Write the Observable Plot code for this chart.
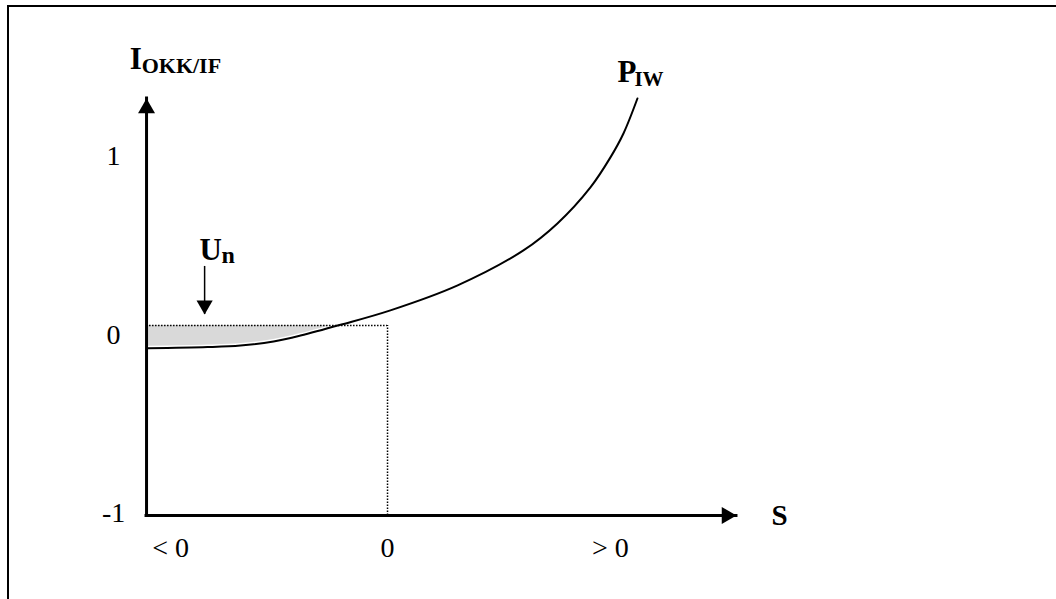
<!DOCTYPE html>
<html><head><meta charset="utf-8">
<script src="https://cdn.jsdelivr.net/npm/d3@7"></script>
<script src="https://cdn.jsdelivr.net/npm/@observablehq/plot@0.6"></script>
<style>
html,body{margin:0;padding:0;background:#fff;}
#wrap{position:relative;width:1056px;height:599px;overflow:hidden;background:#fff;}
#wrap svg{position:absolute;left:0;top:0;}
.frameTop{position:absolute;left:7px;top:5px;width:1049px;height:2px;background:#000;}
.frameLeft{position:absolute;left:7px;top:5px;width:2px;height:594px;background:#000;}
</style></head><body>
<div id="wrap"><div class="frameTop"></div><div class="frameLeft"></div></div>
<script>
// Curve P_IW (S on x, I_OKK/IF on y)
const curveS = [-0.996, -0.747, -0.610, -0.473, -0.361, -0.195, 0.012, 0.291, 0.564, 0.705, 0.842, 0.925, 0.979, 1.037];
const curveI = [-0.064, -0.057, -0.048, -0.025, 0.008, 0.068, 0.149, 0.289, 0.485, 0.636, 0.838, 1.006, 1.140, 1.336];

// Reference level (dotted) and the shaded region U_n
const dottedLevel = 0.064;
const dottedS = 0;
const shadeEndS = -0.195;

// Axes extents
const axisOrigin = {s: -1, i: -1};
const axisTipS = 1.448;
const axisTipI = 1.336;

// Tick labels
const yTickValues = [1, 0, -1];
const yTickLabels = ["1", "0", "-1"];
const xTickValues = [-0.9, 0, 0.925];
const xTickLabels = ["< 0", "0", "> 0"];

// Names
const yName = {main: "I", sub: "OKK/IF", s: -1.07, i: 1.504};
const xName = {main: "S", s: 1.593, i: -1};
const curveName = {main: "P", sub: "IW", s: 0.954, i: 1.426};
const arrowName = {main: "U", sub: "n", s: -0.780, i: 0.4286};
const arrowS = -0.759, arrowFromI = 0.395, arrowToI = 0.126;

const curve = curveS.map((s, k) => ({s, i: curveI[k]}));
const shade = curve.filter(d => d.s <= shadeEndS);

const font = "'Liberation Serif', 'Times New Roman', serif";
const txt = (data, o) => Plot.text(data, {fontFamily: font, ...o});
const cv = "catmull-rom";

const chart = Plot.plot({
  width: 1056,
  height: 599,
  margin: 0,
  x: {domain: [-1.606, 2.776], axis: null},
  y: {domain: [-1.471, 1.885], axis: null},
  style: {background: "transparent", overflow: "visible"},
  marks: [
    Plot.areaY(shade, {x: "s", y1: "i", y2: dottedLevel, fill: "#d9d9d9", curve: cv}),
    Plot.line(shade, {x: "s", y: "i", stroke: "white", strokeWidth: 5, curve: cv}),
    Plot.ruleY([dottedLevel], {x1: axisOrigin.s, x2: dottedS, stroke: "black", strokeWidth: 1.5, strokeDasharray: "1.5,1.5"}),
    Plot.ruleX([dottedS], {y1: axisOrigin.i, y2: dottedLevel, stroke: "black", strokeWidth: 1.5, strokeDasharray: "1.5,1.5"}),
    Plot.line(curve, {x: "s", y: "i", stroke: "black", strokeWidth: 2, curve: cv}),
    // axes
    Plot.ruleX([axisOrigin.s], {y1: axisOrigin.i, y2: axisTipI, stroke: "black", strokeWidth: 3, strokeLinecap: "square"}),
    Plot.ruleY([axisOrigin.i], {x1: axisOrigin.s, x2: axisTipS, stroke: "black", strokeWidth: 3, strokeLinecap: "square"}),
    Plot.dot([{s: axisOrigin.s, i: axisTipI}], {x: "s", y: "i", symbol: "triangle", r: 6.3, fill: "black", stroke: null, dy: 9.8}),
    Plot.dot([{s: axisTipS, i: axisOrigin.i}], {x: "s", y: "i", symbol: "triangle", r: 6.3, fill: "black", stroke: null, rotate: 90, dx: -9.8}),
    // U_n arrow
    Plot.ruleX([arrowS], {y1: arrowFromI, y2: arrowToI, stroke: "black", strokeWidth: 1.5}),
    Plot.dot([{s: arrowS, i: arrowToI}], {x: "s", y: "i", symbol: "triangle", r: 6.0, fill: "black", stroke: null, rotate: 180, dy: -9.3}),
    // tick labels
    txt(yTickValues, {x: axisOrigin.s, y: d => d, text: (d, k) => yTickLabels[k], fontSize: 28, dx: -33, dy: -2, textAnchor: "middle"}),
    txt(xTickValues, {x: d => d, y: axisOrigin.i, text: (d, k) => xTickLabels[k], fontSize: 28, dy: 33, textAnchor: "middle"}),
    // names
    txt([yName], {x: "s", y: "i", text: "main", fontSize: 31, fontWeight: "bold", textAnchor: "start", lineAnchor: "bottom"}),
    txt([yName], {x: "s", y: "i", text: "sub", fontSize: 22, fontWeight: "bold", textAnchor: "start", lineAnchor: "bottom", dx: 12, dy: 4}),
    txt([xName], {x: "s", y: "i", text: "main", fontSize: 29, fontWeight: "bold", textAnchor: "start"}),
    txt([curveName], {x: "s", y: "i", text: "main", fontSize: 31, fontWeight: "bold", textAnchor: "start", lineAnchor: "bottom"}),
    txt([curveName], {x: "s", y: "i", text: "sub", fontSize: 21, fontWeight: "bold", textAnchor: "start", lineAnchor: "bottom", dx: 17, dy: 4}),
    txt([arrowName], {x: "s", y: "i", text: "main", fontSize: 31, fontWeight: "bold", textAnchor: "start", lineAnchor: "bottom"}),
    txt([arrowName], {x: "s", y: "i", text: "sub", fontSize: 24, fontWeight: "bold", textAnchor: "start", lineAnchor: "bottom", dx: 22, dy: 3})
  ]
});
document.getElementById("wrap").appendChild(chart);
</script>
</body></html>
